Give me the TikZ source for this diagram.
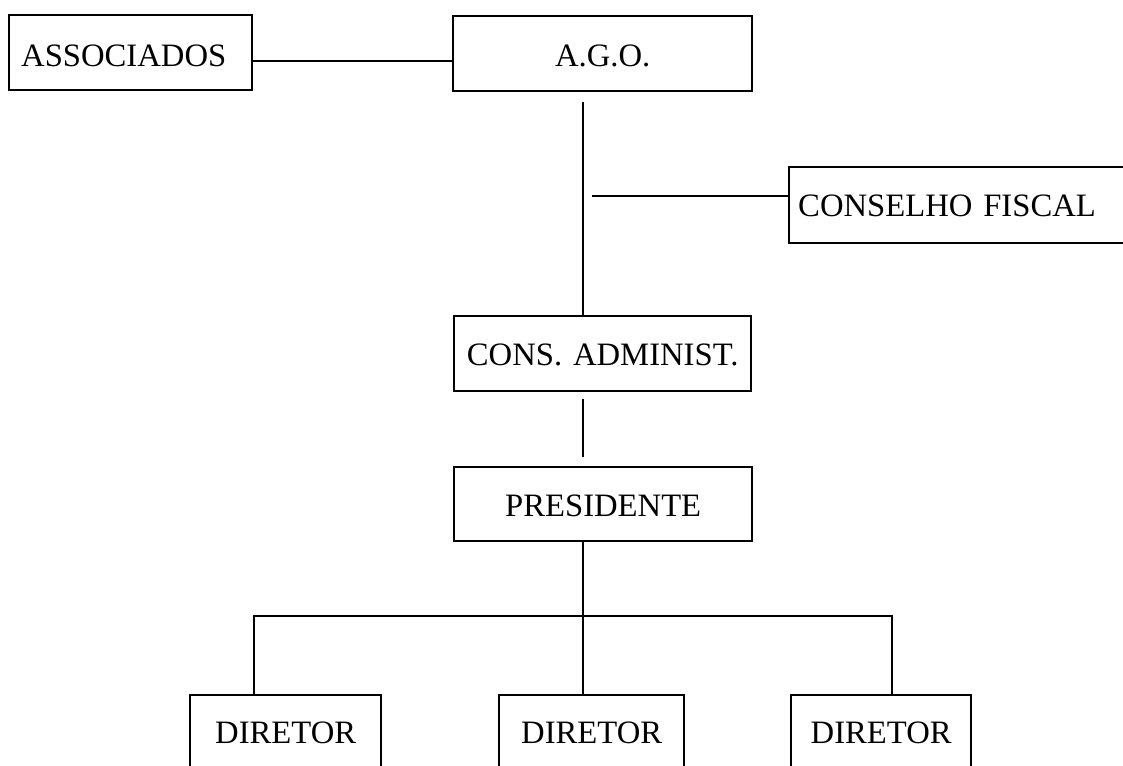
\documentclass[tikz,border=0pt]{standalone}
\usepackage{fontspec}
\setmainfont{Liberation Serif}
\begin{document}
\begin{tikzpicture}[x=0.75pt,y=-0.75pt,line width=1.8pt,
  box/.style={draw,rectangle,anchor=north west,inner ysep=0pt,inner xsep=0pt,
    line width=1.8pt,align=center,font=\fontsize{24.5}{28}\selectfont},
  conn/.style={draw,line width=1.8pt}]
\useasboundingbox (0,0) rectangle (1123,765);
% boxes
\node[box,align=left,inner xsep=9pt,text width=164.25pt,text height=38.25pt,text depth=18pt] (assoc) at (8,14) {ASSOCIADOS};
\node[box,text width=224.25pt,text height=37.5pt,text depth=18.75pt] (ago) at (452,15) {A.G.O.};
\node[box,align=left,inner xsep=6.75pt,text width=243pt,text height=36.75pt,text depth=20.25pt] (fiscal) at (788,166) {CONSELHO FISCAL};
\node[box,text width=222.75pt,text height=36.75pt,text depth=19.5pt] (cons) at (453,315) {CONS. ADMINIST.};
\node[box,text width=223.5pt,text height=36.75pt,text depth=18.75pt] (pres) at (453,466) {PRESIDENTE};
\node[box,text width=143.25pt,text height=36pt,text depth=24.75pt] (dir1) at (189,694) {DIRETOR};
\node[box,text width=138.75pt,text height=36pt,text depth=24.75pt] (dir2) at (498,694) {DIRETOR};
\node[box,text width=135pt,text height=36pt,text depth=24.75pt] (dir3) at (790,694) {DIRETOR};
% guide coordinates
\coordinate (vx) at (583,0);
\coordinate (lx) at (254,0);
\coordinate (rx) at (892,0);
\coordinate (hy) at (0,616);
\coordinate (ay) at (0,61);
\coordinate (fy) at (0,196);
\coordinate (fs) at (592,196);
% connectors
\draw[conn] (assoc.east |- ay) -- (ago.west |- ay);
\draw[conn,shorten <=7.5pt] (ago.south -| vx) -- (cons.north -| vx);
\draw[conn] (fs) -- (fiscal.west |- fy);
\draw[conn,shorten <=5.25pt,shorten >=6.75pt] (cons.south -| vx) -- (pres.north -| vx);
\draw[conn] (pres.south -| vx) -- (hy -| vx);
\draw[conn] (dir1.north -| lx) -- (hy -| lx) -- (hy -| rx) -- (dir3.north -| rx);
\draw[conn] (hy -| vx) -- (dir2.north -| vx);
\end{tikzpicture}
\end{document}
